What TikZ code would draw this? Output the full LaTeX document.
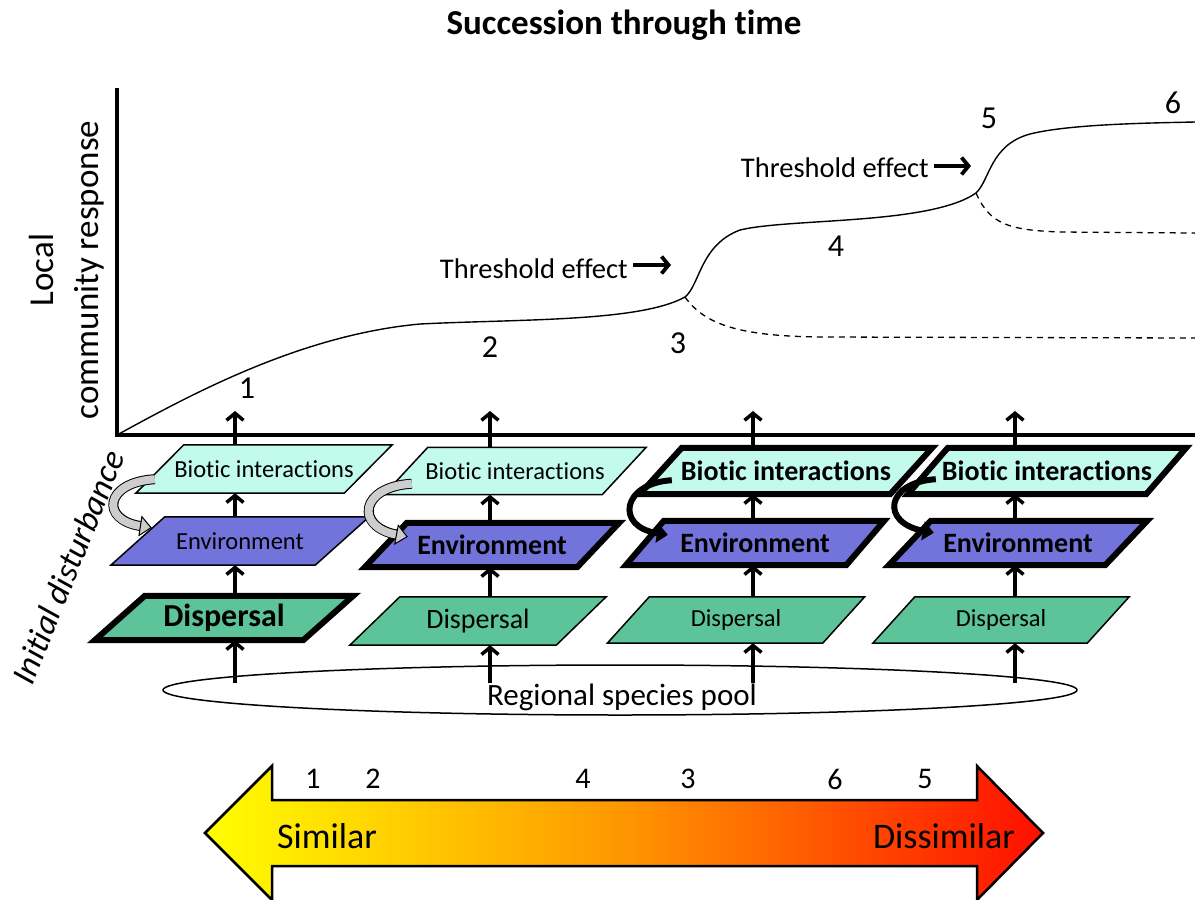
\documentclass[tikz,border=0pt]{standalone}
\usepackage{fontspec}
\setmainfont[Ligatures=NoCommon,RawFeature={-liga;-clig;-calt;-dlig}]{Carlito}
\usetikzlibrary{arrows.meta,shapes.geometric,backgrounds,calc}
\definecolor{bioc}{RGB}{194,250,235}
\definecolor{envc}{RGB}{115,115,220}
\definecolor{disc}{RGB}{92,196,152}
\definecolor{greyc}{RGB}{205,205,205}
\definecolor{yelc}{RGB}{255,255,0}
\definecolor{orac}{RGB}{255,150,0}
\definecolor{redc}{RGB}{255,15,0}
\newcommand\fs[2]{\fontsize{#1}{#2}\selectfont}
\newcommand\para[9]{%
  \node[inner sep=0pt, minimum width=#4pt, minimum height=#5pt] (#1) at (#2,#3) {#9};
  \begin{scope}[on background layer]
    \filldraw[fill=#7, line width=#8, line join=miter]
      ([xshift=-#6pt]#1.south west) -- ([xshift=-#6pt]#1.south east) --
      ([xshift=#6pt]#1.north east) -- ([xshift=#6pt]#1.north west) -- cycle;
  \end{scope}}
\tikzset{
  uparr/.style={line width=3.5pt, -{Straight Barb[length=7pt,width=17pt,line width=3.5pt]}},
  tharr/.style={line width=3.8pt, -{Straight Barb[length=7pt,width=17pt,line width=3.8pt]}},
  axisline/.style={line width=3.5pt, line join=miter},
  curve/.style={line width=1.4pt},
  dcurve/.style={line width=1.3pt, dash pattern=on 6pt off 5pt},
  greyarr/.style={line width=8pt, draw=greyc,
    -{Triangle[length=12pt,width=21pt,color=black,fill=greyc,line width=1pt]},
    preaction={draw=black, line width=10pt, -, shorten >=11pt}},
  blackarr/.style={line width=6pt, -{Triangle[length=11pt,width=19pt]}},
  num/.style={inner sep=0pt, font=\fs{32}{36}},
  bnum/.style={inner sep=0pt, font=\fs{30}{34}}
}
\begin{document}
\begin{tikzpicture}[x=1pt,y=-1pt]
\useasboundingbox (0,0) rectangle (1195,900);

% title
\node[font=\fs{35}{40}\bfseries] (title) at (624,25) {Succession through time};

% axes
\coordinate (O) at (117,435);
\coordinate (Ytop) at (117,88);
\coordinate (Xend) at (1195,435);
\draw[axisline] (Ytop) -- (O) -- (Xend);

\node[rotate=90, align=center, font=\fs{35}{45}] (ylab) at (67,270) {Local\\community response};
\node[rotate=68, font=\fs{34}{40}\itshape] (dist) at (68,567) {Initial disturbance};

% response curve
\draw[curve] (O) .. controls (190,395) and (300,335) .. (420,324)
  .. controls (520,319) and (640,322) .. (685,297)
  coordinate (br1)
  .. controls (700,285) and (700,245) .. (740,230)
  .. controls (790,218) and (930,225) .. (976,193)
  coordinate (br2)
  .. controls (990,180) and (990,145) .. (1030,134)
  .. controls (1070,124) and (1150,123) .. (1195,122);
\draw[dcurve] (br1) .. controls (705,325) and (740,336) .. (820,337) -- (1195,338);
\draw[dcurve] (br2) .. controls (990,225) and (1010,230) .. (1060,232) -- (1195,233);

% numbers on the curve
\node[num] (n1) at (247,388) {1};
\node[num] (n2) at (490,347) {2};
\node[num] (n3) at (678,343) {3};
\node[num] (n4) at (836,246) {4};
\node[num] (n5) at (989,118) {5};
\node[num] (n6) at (1173,103) {6};

% threshold labels
\node[anchor=east, inner sep=0pt, font=\fs{28.5}{32}] (thr1) at (628,269) {Threshold effect};
\coordinate (t1) at (671,265);
\draw[tharr] ([xshift=5pt,yshift=4pt]thr1.east) -- (t1);
\node[anchor=east, inner sep=0pt, font=\fs{28.5}{32}] (thr2) at (929,168) {Threshold effect};
\coordinate (t2) at (971,166);
\draw[tharr] ([xshift=5pt,yshift=2pt]thr2.east) -- (t2);

% layer boxes
\para{bio1}{264}{469}{208}{48}{24}{bioc}{1.5pt}{\fs{24.5}{28}Biotic interactions}
\para{env1}{240}{541}{204}{48}{27}{envc}{1.5pt}{\fs{24.5}{28}Environment}
\para{dis1}{224}{618}{208}{44}{25}{disc}{6pt}{\fs{32}{36}\bfseries Dispersal}

\para{bio2}{515}{471}{218}{47}{22}{bioc}{1.5pt}{\fs{24.5}{28}Biotic interactions}
\para{env2}{492}{545}{212}{44}{21}{envc}{6pt}{\fs{28}{32}\bfseries Environment}
\para{dis2}{478}{621}{206}{48}{25}{disc}{1.5pt}{\fs{28}{32}Dispersal}

\para{bio3}{786}{471}{250}{46}{21}{bioc}{6pt}{\fs{28}{32}\bfseries Biotic interactions}
\para{env3}{755}{543}{220}{44}{19}{envc}{6pt}{\fs{28}{32}\bfseries Environment}
\para{dis3}{736}{620}{215}{46}{21}{disc}{1.5pt}{\fs{24.5}{28}Dispersal}

\para{bio4}{1047}{471}{238}{46}{20}{bioc}{6pt}{\fs{28}{32}\bfseries Biotic interactions}
\para{env4}{1018}{543}{216}{44}{21}{envc}{6pt}{\fs{28}{32}\bfseries Environment}
\para{dis4}{1001}{620}{214}{46}{21}{disc}{1.5pt}{\fs{24.5}{28}Dispersal}

% regional species pool
\node[draw, ellipse, line width=1.5pt, minimum width=914pt, minimum height=50pt, inner sep=0pt] (pool) at (620,690) {};
\node[inner sep=0pt, font=\fs{31}{36}] (pooltxt) at (622,697) {Regional species pool};

% vertical arrows
\foreach \i/\x in {1/235,2/490,3/753,4/1015} {
  \coordinate (c\i) at (\x,0);
  \coordinate (up\i) at (\x,411);
  \draw[uparr] ($(c\i |- pool.center)+(0,-7)$) -- (c\i |- dis\i.south);
  \draw[uparr] (c\i |- dis\i.north) -- (c\i |- env\i.south);
  \draw[uparr] (c\i |- env\i.north) -- (c\i |- bio\i.south);
  \draw[uparr] (c\i |- bio\i.north) -- (up\i);
}

% curved feedback arrows
\draw[greyarr] ([xshift=-5pt,yshift=14pt]bio1.south west) .. controls +(-50,3) and +(-52,-8) .. ([xshift=14pt,yshift=-11pt]env1.north west);
\draw[greyarr] ([xshift=6pt,yshift=11pt]bio2.south west) .. controls +(-52,3) and +(-53,-10) .. ([xshift=22pt,yshift=-14pt]env2.north west);
\draw[blackarr] ([xshift=11pt,yshift=14pt]bio3.south west) .. controls +(-50,3) and +(-53,-8) .. ([xshift=23pt,yshift=-14pt]env3.north west);
\draw[blackarr] ([xshift=8pt,yshift=15pt]bio4.south west) .. controls +(-50,3) and +(-54,-10) .. ([xshift=24pt,yshift=-12pt]env4.north west);

% similarity gradient arrow
\shadedraw[left color=yelc, right color=redc, middle color=orac, line width=2.5pt, line join=miter]
  (205,833) -- (272,766) -- (272,800) -- (977,800) -- (977,766) -- (1043,833)
  -- (977,900) -- (977,866) -- (272,866) -- (272,900) -- cycle;
\node[inner sep=0pt, font=\fs{36}{40}] (sim) at (327,836) {Similar};
\node[inner sep=0pt, font=\fs{36}{40}] (dissim) at (944,836) {Dissimilar};
\node[bnum] (b1) at (313,779) {1};
\node[bnum] (b2) at (373,779) {2};
\node[bnum] (b4) at (583,779) {4};
\node[bnum] (b3) at (688,779) {3};
\node[bnum] (b6) at (835,779) {6};
\node[bnum] (b5) at (925,779) {5};
\end{tikzpicture}
\end{document}
